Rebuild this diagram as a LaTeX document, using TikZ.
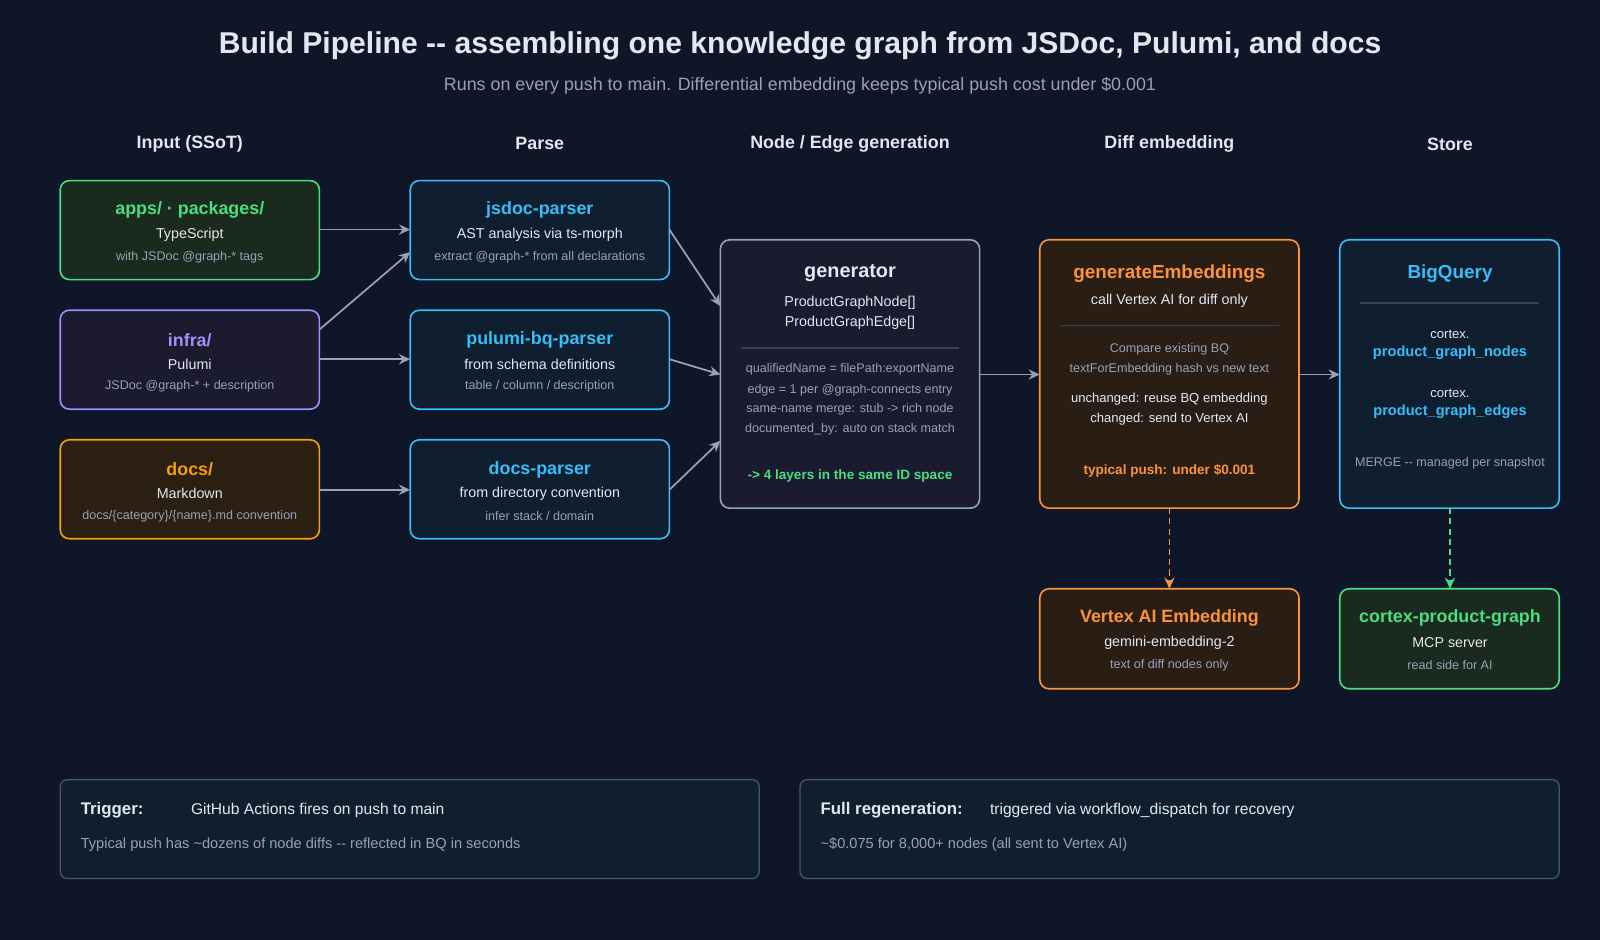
\documentclass[tikz,border=0pt]{standalone}
\usepackage{fontspec}
\setmainfont{Liberation Sans}[Ligatures=NoCommon]
\usetikzlibrary{arrows.meta,calc}
\definecolor{bg}{HTML}{0E1628}
\definecolor{tw}{HTML}{E2E8F0}
\definecolor{tg}{HTML}{94A3B8}
\definecolor{cgreen}{HTML}{4ADE80}\definecolor{fgreen}{HTML}{1A2A1E}
\definecolor{cpurple}{HTML}{A78BFA}\definecolor{fpurple}{HTML}{1C1A2E}
\definecolor{camber}{HTML}{F59E0B}\definecolor{famber}{HTML}{2A1F10}
\definecolor{ccyan}{HTML}{38BDF8}\definecolor{fcyan}{HTML}{0F1F30}
\definecolor{corange}{HTML}{FB923C}\definecolor{forange}{HTML}{2A1E14}
\definecolor{fgen}{HTML}{1A1B2E}
\definecolor{sep}{HTML}{334155}
\definecolor{cbot}{HTML}{475569}\definecolor{fbot}{HTML}{0F1F2E}
\newcommand{\dd}{-{}-}
\tikzset{
 box/.style={draw=#1, line width=1.6pt, rounded corners=9pt},
 ttl/.style={font=\fontsize{17.5}{20}\selectfont\bfseries, text=#1, anchor=center},
 sub/.style={font=\fontsize{14}{16}\selectfont, text=tw, anchor=center},
 sml/.style={font=\fontsize{12.3}{14}\selectfont, text=tg, anchor=center},
 hdr/.style={font=\fontsize{17.5}{20}\selectfont\bfseries, text=tw, anchor=center},
 arr/.style={draw=tg, line width=1.7pt, -{Stealth[length=11pt,width=10pt]}},
 darr/.style={draw=#1, line width=1.5pt, dashed, dash pattern=on 6pt off 4pt, -{Stealth[length=11pt,width=10pt]}},
 sepl/.style={draw=sep, line width=1.4pt},
}
\begin{document}
\begin{tikzpicture}[x=1pt,y=-1pt]
\fill[bg] (0,0) rectangle (1568,921);
\useasboundingbox (0,0) rectangle (1568,921);
\node[font=\fontsize{29.5}{33}\selectfont\bfseries, text=tw] (title) at (784,45) {Build Pipeline \dd{} assembling one knowledge graph from JSDoc, Pulumi, and docs};
\node[font=\fontsize{17.5}{20}\selectfont, text=tg] (subtitle) at (784,84) {Runs on every push to main. Differential embedding keeps typical push cost under \$0.001};
\node[hdr] (h1) at (186,141) {Input (SSoT)};
\node[hdr] (h2) at (529,141) {Parse};
\node[hdr] (h3) at (833,141) {Node / Edge generation};
\node[hdr] (h4) at (1146,141) {Diff embedding};
\node[hdr] (h5) at (1421,141) {Store};
% input boxes
\draw[box=cgreen, fill=fgreen] (59,177) rectangle (313,274);
\coordinate (appsE) at (313,225);
\node[ttl=cgreen] (t1) at (186,206) {apps/ · packages/};
\node[sub] (s1) at (186,230) {TypeScript};
\node[sml] (m1) at (186,252) {with JSDoc @graph-* tags};
\draw[box=cpurple, fill=fpurple] (59,304) rectangle (313,401);
\coordinate (infraE1) at (313,323);
\coordinate (infraE2) at (313,352);
\node[ttl=cpurple] (t2) at (186,333) {infra/};
\node[sub] (s2) at (186,357) {Pulumi};
\node[sml] (m2) at (186,379) {JSDoc @graph-* + description};
\draw[box=camber, fill=famber] (59,431) rectangle (313,528);
\coordinate (docsE) at (313,480);
\node[ttl=camber] (t3) at (186,460) {docs/};
\node[sub] (s3) at (186,484) {Markdown};
\node[sml] (m3) at (186,506) {docs/\{category\}/\{name\}.md convention};
% parsers
\draw[box=ccyan, fill=fcyan] (402,177) rectangle (656,274);
\coordinate (jsW1) at (402,225);\coordinate (jsW2) at (402,247);\coordinate (jsE) at (656,225);
\node[ttl=ccyan] (t4) at (529,206) {jsdoc-parser};
\node[sub] (s4) at (529,230) {AST analysis via ts-morph};
\node[sml] (m4) at (529,252) {extract @graph-* from all declarations};
\draw[box=ccyan, fill=fcyan] (402,304) rectangle (656,401);
\coordinate (puW) at (402,352);\coordinate (puE) at (656,352);
\node[ttl=ccyan] (t5) at (529,333) {pulumi-bq-parser};
\node[sub] (s5) at (529,357) {from schema definitions};
\node[sml] (m5) at (529,379) {table / column / description};
\draw[box=ccyan, fill=fcyan] (402,431) rectangle (656,528);
\coordinate (dpW) at (402,480);\coordinate (dpE) at (656,480);
\node[ttl=ccyan] (t6) at (529,460) {docs-parser};
\node[sub] (s6) at (529,484) {from directory convention};
\node[sml] (m6) at (529,506) {infer stack / domain};
% generator
\draw[box=tg, fill=fgen] (706,235) rectangle (960,498);
\coordinate (gW1) at (706,300);\coordinate (gW2) at (706,367);\coordinate (gW3) at (706,432);\coordinate (gE) at (960,367);
\node[ttl=tw, font=\fontsize{19.5}{22}\selectfont\bfseries] (t7) at (833,268) {generator};
\node[sub] (s7a) at (833,297) {ProductGraphNode[]};
\node[sub] (s7b) at (833,316) {ProductGraphEdge[]};
\coordinate (g1) at (726,341);\coordinate (g2) at (940,341);
\draw[sepl] (g1) -- (g2);
\node[sml] (m7a) at (833,362) {qualifiedName = filePath:exportName};
\node[sml] (m7b) at (833,382) {edge = 1 per @graph-connects entry};
\node[sml] (m7c) at (833,401) {same-name merge: stub -> rich node};
\node[sml] (m7d) at (833,421) {documented\_by: auto on stack match};
\node[sml, text=cgreen, font=\fontsize{13.3}{15}\selectfont\bfseries] (m7e) at (833,466) {-> 4 layers in the same ID space};
% generateEmbeddings
\draw[box=corange, fill=forange] (1019,235) rectangle (1273,498);
\coordinate (eW) at (1019,367);\coordinate (eE) at (1273,367);\coordinate (eS) at (1146,498);
\node[ttl=corange, font=\fontsize{18.5}{21}\selectfont\bfseries] (t8) at (1146,268) {generateEmbeddings};
\node[sub] (s8) at (1146,295) {call Vertex AI for diff only};
\coordinate (e1) at (1039,319);\coordinate (e2) at (1253,319);
\draw[sepl] (e1) -- (e2);
\node[sml] (m8a) at (1146,342) {Compare existing BQ};
\node[sml] (m8b) at (1146,362) {textForEmbedding hash vs new text};
\node[sub, font=\fontsize{12.8}{15}\selectfont] (m8c) at (1146,391) {unchanged: reuse BQ embedding};
\node[sub, font=\fontsize{12.8}{15}\selectfont] (m8d) at (1146,411) {changed: send to Vertex AI};
\node[sml, text=corange, font=\fontsize{13.3}{15}\selectfont\bfseries] (m8e) at (1146,461) {typical push: under \$0.001};
% BigQuery
\draw[box=ccyan, fill=fcyan] (1313,235) rectangle (1528,498);
\coordinate (bW) at (1313,367);\coordinate (bS) at (1421,498);
\node[ttl=ccyan, font=\fontsize{18.5}{21}\selectfont\bfseries] (t9) at (1421,268) {BigQuery};
\coordinate (b1) at (1333,297);\coordinate (b2) at (1508,297);
\draw[sepl] (b1) -- (b2);
\node[sub, font=\fontsize{12.8}{15}\selectfont] (m9a) at (1421,328) {cortex.};
\node[sub, text=ccyan, font=\fontsize{14.3}{16}\selectfont\bfseries] (m9b) at (1421,346) {product\_graph\_nodes};
\node[sub, font=\fontsize{12.8}{15}\selectfont] (m9c) at (1421,385) {cortex.};
\node[sub, text=ccyan, font=\fontsize{14.3}{16}\selectfont\bfseries] (m9d) at (1421,404) {product\_graph\_edges};
\node[sml] (m9e) at (1421,454) {MERGE \dd{} managed per snapshot};
% bottom right boxes
\draw[box=corange, fill=forange] (1019,577) rectangle (1273,675);
\coordinate (vN) at (1146,577);
\node[ttl=corange] (t10) at (1146,606) {Vertex AI Embedding};
\node[sub] (s10) at (1146,630) {gemini-embedding-2};
\node[sml] (m10) at (1146,652) {text of diff nodes only};
\draw[box=cgreen, fill=fgreen] (1313,577) rectangle (1528,675);
\coordinate (cN) at (1421,577);
\node[ttl=cgreen] (t11) at (1421,606) {cortex-product-graph};
\node[sub] (s11) at (1421,630) {MCP server};
\node[sml] (m11) at (1421,652) {read side for AI};
% arrows
\draw[arr] (appsE) -- (jsW1);
\draw[arr] (infraE1) -- (jsW2);
\draw[arr] (infraE2) -- (puW);
\draw[arr] (docsE) -- (dpW);
\draw[arr] (jsE) -- (gW1);
\draw[arr] (puE) -- (gW2);
\draw[arr] (dpE) -- (gW3);
\draw[arr] (gE) -- (eW);
\draw[arr] (eE) -- (bW);
\draw[darr=corange] (eS) -- (vN);
\draw[darr=cgreen] (bS) -- (cN);
% bottom notes
\draw[draw=cbot, fill=fbot, line width=1.3pt, rounded corners=7pt] (59,764) rectangle (744,861);
\node[anchor=west, inner sep=0pt, font=\fontsize{16.5}{19}\selectfont\bfseries, text=tw] (n1) at (79,794) {Trigger:};
\node[anchor=west, inner sep=0pt, font=\fontsize{15.3}{18}\selectfont, text=tw] (n1b) at (187,794) {GitHub Actions fires on push to main};
\node[anchor=west, inner sep=0pt, font=\fontsize{14.3}{17}\selectfont, text=tg] (n1c) at (79,828) {Typical push has \textasciitilde dozens of node diffs \dd{} reflected in BQ in seconds};
\draw[draw=cbot, fill=fbot, line width=1.3pt, rounded corners=7pt] (784,764) rectangle (1528,861);
\node[anchor=west, inner sep=0pt, font=\fontsize{16.5}{19}\selectfont\bfseries, text=tw] (n2) at (804,794) {Full regeneration:};
\node[anchor=west, inner sep=0pt, font=\fontsize{15.3}{18}\selectfont, text=tw] (n2b) at (970,794) {triggered via workflow\_dispatch for recovery};
\node[anchor=west, inner sep=0pt, font=\fontsize{14.3}{17}\selectfont, text=tg] (n2c) at (804,828) {\textasciitilde\$0.075 for 8,000+ nodes (all sent to Vertex AI)};
\end{tikzpicture}
\end{document}
